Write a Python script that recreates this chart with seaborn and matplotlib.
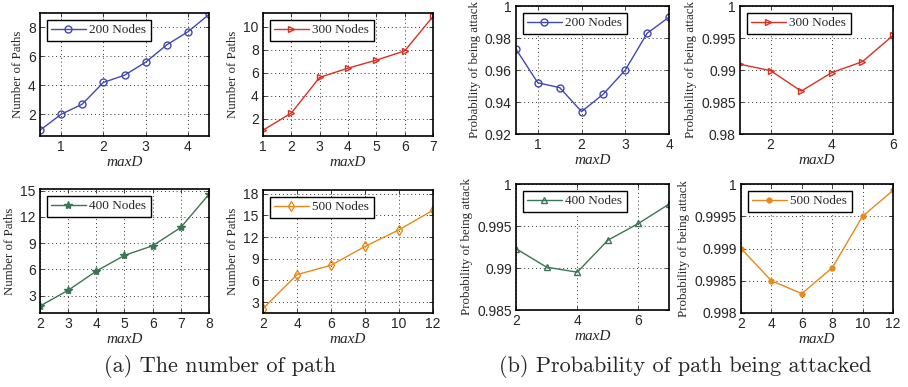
import numpy as np
import pandas as pd
import matplotlib
matplotlib.use("Agg")
import matplotlib.pyplot as plt
from matplotlib.ticker import FuncFormatter
import seaborn as sns

sns.set_style("white")

# ---------------- data ----------------
x_200_paths = [0.5, 1, 1.5, 2, 2.5, 3, 3.5, 4, 4.5]
y_200_paths = [0.9, 2.0, 2.7, 4.2, 4.7, 5.6, 6.8, 7.7, 8.9]
x_300_paths = [1, 2, 3, 4, 5, 6, 7]
y_300_paths = [1.0, 2.5, 5.6, 6.4, 7.1, 7.9, 10.9]
x_400_paths = [2, 3, 4, 5, 6, 7, 8]
y_400_paths = [1.8, 3.6, 5.8, 7.6, 8.7, 10.8, 14.6]
x_500_paths = [2, 4, 6, 8, 10, 12]
y_500_paths = [2.1, 6.8, 8.1, 10.7, 13.0, 15.7]

x_200_prob = [0.5, 1, 1.5, 2, 2.5, 3, 3.5, 4]
y_200_prob = [0.973, 0.952, 0.949, 0.934, 0.945, 0.960, 0.983, 0.993]
x_300_prob = [1, 2, 3, 4, 5, 6]
y_300_prob = [0.9909, 0.9899, 0.9867, 0.9896, 0.9913, 0.9954]
x_400_prob = [2, 3, 4, 5, 6, 7]
y_400_prob = [0.9923, 0.9901, 0.9895, 0.9933, 0.9953, 0.9976]
x_500_prob = [2, 4, 6, 8, 10, 12]
y_500_prob = [0.9990, 0.9985, 0.9983, 0.9987, 0.9995, 0.9999]

labels = ["200 Nodes", "300 Nodes", "400 Nodes", "500 Nodes"]
captions = ["(a) The number of path", "(b) Probability of path being attacked"]

# ---------------- style ----------------
C_BLUE = "#4048b4"
C_RED = "#dc2f23"
C_GREEN = "#3b7652"
C_ORANGE = "#e8891a"

W, H = 908, 387
fig = plt.figure(figsize=(W / 100, H / 100), dpi=100)

def box(l, r, t, b):
    return [l / W, 1 - b / H, (r - l) / W, (b - t) / H]

serif = ["Liberation Serif", "DejaVu Serif"]
sans = ["Liberation Sans", "DejaVu Sans"]

panels = [
    dict(pos=box(40, 209, 13, 136), x=x_200_paths, y=y_200_paths, lab=labels[0], c=C_BLUE,
         m="o", fill=False, ms=5, xlim=(0.5, 4.5), ylim=(0.5, 9.0), xt=[1, 2, 3, 4], yt=[2, 4, 6, 8],
         ylabel="Number of Paths"),
    dict(pos=box(263, 433, 13, 136), x=x_300_paths, y=y_300_paths, lab=labels[1], c=C_RED,
         m=">", fill=False, ms=5, xlim=(1, 7), ylim=(0.5, 11.2), xt=[1, 2, 3, 4, 5, 6, 7], yt=[2, 4, 6, 8, 10],
         ylabel="Number of Paths"),
    dict(pos=box(40, 209, 189, 313), x=x_400_paths, y=y_400_paths, lab=labels[2], c=C_GREEN,
         m="*", fill=True, ms=6, xlim=(2, 8), ylim=(1.0, 15.2), xt=[2, 3, 4, 5, 6, 7, 8], yt=[3, 6, 9, 12, 15],
         ylabel="Number of Paths"),
    dict(pos=box(263, 433, 190, 313), x=x_500_paths, y=y_500_paths, lab=labels[3], c=C_ORANGE,
         m="d", fill=False, ms=5.5, xlim=(2, 12), ylim=(1.5, 18.5), xt=[2, 4, 6, 8, 10, 12], yt=[3, 6, 9, 12, 15, 18],
         ylabel="Number of Paths"),
    dict(pos=box(516, 669, 6, 134), x=x_200_prob, y=y_200_prob, lab=labels[0], c=C_BLUE,
         m="o", fill=False, ms=5, xlim=(0.5, 4), ylim=(0.92, 1.0), xt=[1, 2, 3, 4], yt=[0.92, 0.94, 0.96, 0.98, 1.0],
         ylabel="Probability of being attack"),
    dict(pos=box(740, 893, 6, 134), x=x_300_prob, y=y_300_prob, lab=labels[1], c=C_RED,
         m=">", fill=False, ms=5, xlim=(1, 6), ylim=(0.98, 1.0), xt=[2, 4, 6], yt=[0.98, 0.985, 0.99, 0.995, 1.0],
         ylabel="Probability of being attack"),
    dict(pos=box(516, 669, 184, 310), x=x_400_prob, y=y_400_prob, lab=labels[2], c=C_GREEN,
         m="^", fill=False, ms=5, xlim=(2, 7), ylim=(0.985, 1.0), xt=[2, 4, 6], yt=[0.985, 0.99, 0.995, 1.0],
         ylabel="Probability of being attack"),
    dict(pos=box(741, 893, 184, 313), x=x_500_prob, y=y_500_prob, lab=labels[3], c=C_ORANGE,
         m=".", fill=True, ms=7, xlim=(2, 12), ylim=(0.998, 1.0), xt=[2, 4, 6, 8, 10, 12],
         yt=[0.998, 0.9985, 0.999, 0.9995, 1.0],
         ylabel="Probability of being attack"),
]

fmt = FuncFormatter(lambda v, p: f"{v:.4f}".rstrip("0").rstrip("."))

for p in panels:
    ax = fig.add_axes(p["pos"])
    df = pd.DataFrame({"maxD": p["x"], "val": p["y"]})
    kw = dict(marker=p["m"], markersize=p["ms"], markeredgewidth=1.0, markeredgecolor=p["c"])
    if not p["fill"]:
        kw["markerfacecolor"] = "none"
    else:
        kw["markerfacecolor"] = p["c"]
    sns.lineplot(data=df, x="maxD", y="val", ax=ax, color=p["c"], linewidth=1.0,
                 label=p["lab"], **kw)
    ax.set_xlim(*p["xlim"])
    ax.set_ylim(*p["ylim"])
    ax.set_xticks(p["xt"])
    ax.set_yticks(p["yt"])
    ax.yaxis.set_major_formatter(fmt)
    ax.grid(True, linestyle=(0, (1, 3)), color="#333333", linewidth=0.7)
    ax.tick_params(direction="in", length=3, width=0.6, labelsize=10, pad=3,
                   top=True, right=True, bottom=True, left=True)
    for lbl in ax.get_xticklabels() + ax.get_yticklabels():
        lbl.set_family(sans)
    for s in ax.spines.values():
        s.set_linewidth(1.2)
        s.set_color("black")
    ax.set_xlabel("maxD", fontstyle="italic", family=serif, fontsize=11, labelpad=1)
    ax.set_ylabel(p["ylabel"], family=serif, fontsize=9.3, labelpad=3)
    leg = ax.legend(loc="upper left", fancybox=False, framealpha=1, edgecolor="black",
                    prop={"family": serif, "size": 9.5}, handlelength=2.6, borderpad=0.35,
                    borderaxespad=0.5, handletextpad=0.3)
    leg.get_frame().set_linewidth(1.0)

cap_font = ["cmr10", "DejaVu Serif"]
fig.text(220 / W, 1 - 366 / H, captions[0], ha="center", va="center",
         family=cap_font, fontsize=16)
fig.text(685 / W, 1 - 366 / H, captions[1], ha="center", va="center",
         family=cap_font, fontsize=16)

fig.savefig("out.png", dpi=100)
